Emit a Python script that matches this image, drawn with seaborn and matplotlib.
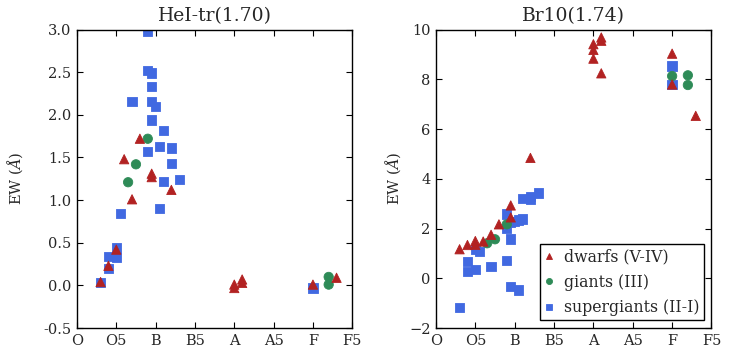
import numpy as np
import pandas as pd
import matplotlib
matplotlib.use("Agg")
import matplotlib.pyplot as plt
import seaborn as sns

# ---------------- data ----------------
classes = ["dwarfs (V-IV)", "giants (III)", "supergiants (II-I)"]
tick_pos = [0, 5, 10, 15, 20, 25, 30, 35]
tick_labels = ["O", "O5", "B", "B5", "A", "A5", "F", "F5"]

# Panel 1: HeI-tr(1.70)
hei_dwarf_x = [3, 4, 5, 6, 7, 8, 9.5, 9.5, 12, 20, 20, 21, 21, 30, 33]
hei_dwarf_y = [0.04, 0.23, 0.42, 1.48, 1.01, 1.72, 1.31, 1.27, 1.12, -0.03, 0.01, 0.03, 0.07, 0.01, 0.09]
hei_giant_x = [6.5, 7.5, 9, 32, 32]
hei_giant_y = [1.21, 1.42, 1.72, 0.10, 0.01]
hei_sg_x = [3, 4, 4, 5, 5, 5.5, 7, 9, 9, 9, 9.5, 9.5, 9.5, 9.5, 10, 10.5, 10.5, 11, 11, 12, 12, 13, 30]
hei_sg_y = [0.035, 0.20, 0.34, 0.33, 0.44, 0.84, 2.16, 2.98, 2.52, 1.57, 2.49, 2.33, 2.16, 1.94,
            2.10, 1.63, 0.90, 1.82, 1.22, 1.61, 1.43, 1.24, -0.03]

# Panel 2: Br10(1.74)
br_dwarf_x = [3, 4, 5, 5, 6, 7, 8, 9.5, 9.5, 12, 20, 20, 20, 21, 21, 21, 30, 30, 33]
br_dwarf_y = [1.17, 1.34, 1.50, 1.35, 1.48, 1.75, 2.17, 2.93, 2.45, 4.84, 9.41, 9.18, 8.83,
              9.68, 9.55, 8.24, 9.03, 7.79, 6.53]
br_giant_x = [6.5, 7.5, 9, 30, 32, 32]
br_giant_y = [1.41, 1.57, 2.17, 8.13, 8.16, 7.77]
br_sg_x = [3, 4, 4, 5, 5, 5.5, 7, 9, 9, 9, 9.5, 9.5, 9.5, 10, 10.5, 10.5, 11, 11, 12, 12, 13, 30, 30]
br_sg_y = [-1.17, 0.67, 0.27, 0.36, 1.15, 1.08, 0.48, 2.59, 2.00, 0.72, 2.24, 1.58, -0.34, 2.28,
           2.35, -0.47, 2.39, 3.20, 3.16, 3.30, 3.43, 8.53, 7.79]

palette = {classes[0]: "#B22222", classes[1]: "#2E8B57", classes[2]: "#4169E1"}
markers = {classes[0]: "^", classes[1]: "o", classes[2]: "s"}


def make_df(dx, dy, gx, gy, sx, sy):
    # supergiants first, then giants, then dwarfs (drawing order)
    parts = [
        pd.DataFrame({"x": sx, "y": sy, "cls": classes[2]}),
        pd.DataFrame({"x": gx, "y": gy, "cls": classes[1]}),
        pd.DataFrame({"x": dx, "y": dy, "cls": classes[0]}),
    ]
    return pd.concat(parts, ignore_index=True)


df_hei = make_df(hei_dwarf_x, hei_dwarf_y, hei_giant_x, hei_giant_y, hei_sg_x, hei_sg_y)
df_br = make_df(br_dwarf_x, br_dwarf_y, br_giant_x, br_giant_y, br_sg_x, br_sg_y)

# ---------------- style ----------------
sns.set_theme(style="ticks")
plt.rcParams["font.family"] = ["DejaVu Serif"]
plt.rcParams["mathtext.fontset"] = "dejavuserif"
plt.rcParams["axes.edgecolor"] = "black"
plt.rcParams["axes.linewidth"] = 1.0

fig = plt.figure(figsize=(7.31, 3.58), dpi=100)
ax1 = fig.add_axes([0.1053, 0.0835, 0.3766, 0.834])
ax2 = fig.add_axes([0.5964, 0.0835, 0.3769, 0.834])

for ax, df, title, ylim, yticks in [
    (ax1, df_hei, "HeI-tr(1.70)", (-0.5, 3.0), np.arange(-0.5, 3.01, 0.5)),
    (ax2, df_br, "Br10(1.74)", (-2, 10), np.arange(-2, 10.1, 2)),
]:
    sns.scatterplot(data=df, x="x", y="y", hue="cls", style="cls",
                    hue_order=classes, style_order=classes,
                    palette=palette, markers=markers, s=45,
                    edgecolor=None, linewidth=0.6, ax=ax, legend=(ax is ax2))
    for coll in ax.collections:
        fc = coll.get_facecolors()
        coll.set_edgecolors(fc)
        coll.set_linewidths(0.6)
    ax.set_xlim(0, 35)
    ax.set_ylim(*ylim)
    ax.set_xticks(tick_pos)
    ax.set_xticklabels(tick_labels)
    ax.set_yticks(yticks)
    ax.set_xlabel("")
    ax.set_ylabel(r"EW ($\AA$)", fontsize=10.5)
    ax.set_title(title, fontsize=13.5, pad=6)
    ax.tick_params(direction="in", top=True, right=True, length=4, width=0.8,
                   labelsize=10.5, color="black", pad=4)
    for sp in ax.spines.values():
        sp.set_visible(True)
        sp.set_color("black")
        sp.set_linewidth(1.0)

ax1.yaxis.set_major_formatter(matplotlib.ticker.FormatStrFormatter("%.1f"))
ax1.yaxis.set_label_coords(-0.19, 0.5)
ax2.yaxis.set_label_coords(-0.118, 0.5)

handles, labels = ax2.get_legend_handles_labels()
leg = ax2.legend(handles, labels, loc="lower right", frameon=True, fancybox=False,
                 edgecolor="black", framealpha=1.0, fontsize=11.3, markerscale=0.65,
                 handletextpad=0.7, borderaxespad=0.5, borderpad=0.25, labelspacing=0.55,
                 handlelength=0.6)
leg.get_frame().set_linewidth(1.0)

fig.savefig("out.png", dpi=100)
